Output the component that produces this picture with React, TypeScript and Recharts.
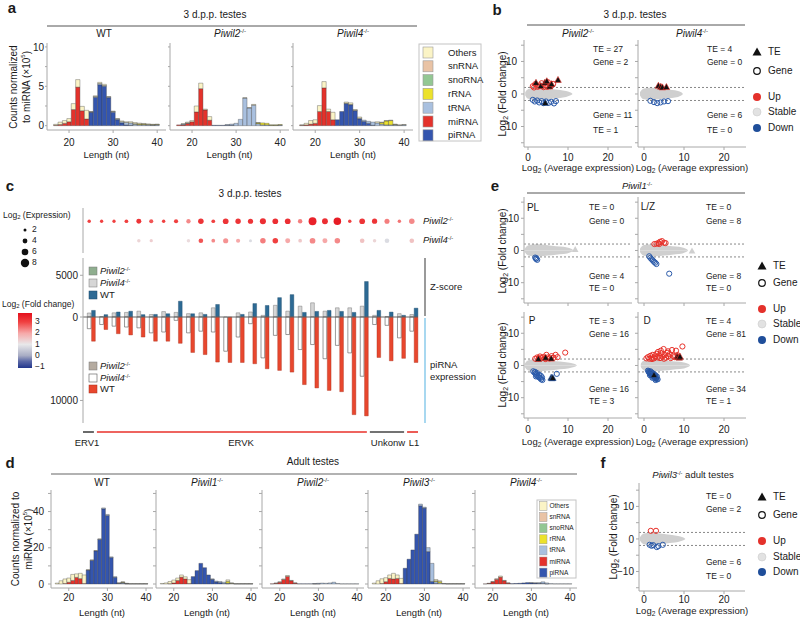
import React from 'react';
import { BarChart, Bar, XAxis, YAxis, ComposedChart, Area, Scatter, ReferenceLine } from 'recharts';

const FONT = '"Liberation Sans", Arial, Helvetica, sans-serif';
const BORDER = '#a8a8a8';
const TXT = '#1a1a1a';

// ---------------- histogram data (panels a, d) ----------------
const LEN = [17, 18, 19, 20, 21, 22, 23, 24, 25, 26, 27, 28, 29, 30, 31, 32, 33, 34, 35, 36, 37, 38, 39, 40];
const RNA_TYPES = ['Others', 'snRNA', 'snoRNA', 'rRNA', 'tRNA', 'miRNA', 'piRNA'];
const RNA_COLORS = ['#FBF4C6', '#E9C3A5', '#93C793', '#ECE22C', '#A9C0DF', '#E4322B', '#3455AE'];
const STACK_KEYS = ['pi', 'mi', 't', 'r', 'o'];
const STACK_COLORS = ['#3455AE', '#E4322B', '#A9C0DF', '#ECE22C', '#FBF4C6'];

const A_WT_PI = [0, 0, 0, 0, 0, 0, 0, 0, 1.7, 3.6, 5.2, 5.0, 3.55, 1.7, 0.75, 0.35, 0.1, 0.05, 0, 0, 0, 0, 0, 0];
const A_WT_MI = [0.05, 0.15, 0.3, 0.5, 2.05, 4.9, 1.9, 0.85, 0, 0, 0, 0, 0, 0, 0, 0, 0, 0, 0, 0, 0, 0, 0, 0];
const A_WT_T = [0, 0, 0, 0, 0, 0, 0, 0, 0.05, 0.1, 0.15, 0.1, 0.1, 0.1, 0.1, 0.15, 0.3, 0.3, 0.2, 0.12, 0.12, 0.1, 0.08, 0.1];
const A_WT_R = [0, 0, 0, 0, 0, 0, 0, 0, 0, 0, 0, 0, 0, 0, 0, 0, 0, 0, 0.05, 0.1, 0.08, 0.05, 0.05, 0.05];
const A_WT_O = [0.12, 0.3, 0.35, 0.4, 0.75, 0.95, 0.55, 1.1, 0.05, 0.1, 0.15, 0.15, 0.05, 0.05, 0.05, 0.1, 0.1, 0.15, 0.15, 0.1, 0.08, 0.08, 0.05, 0.05];

const A_P2_PI = [0, 0, 0, 0, 0, 0, 0, 0, 0.05, 0.05, 0.05, 0.05, 0.05, 0, 0, 0, 0, 0, 0, 0, 0, 0, 0, 0];
const A_P2_MI = [0.1, 0.1, 0.3, 0.5, 1.75, 4.7, 2.0, 0.7, 0, 0, 0, 0, 0, 0, 0, 0, 0, 0, 0, 0, 0, 0, 0, 0];
const A_P2_T = [0, 0.1, 0.05, 0, 0, 0, 0, 0, 0, 0, 0, 0.1, 0.15, 0.3, 0.8, 3.5, 2.25, 2.6, 0.25, 0.1, 0.1, 0.05, 0.05, 0.08];
const A_P2_R = [0, 0, 0, 0, 0, 0, 0, 0, 0, 0, 0, 0, 0, 0, 0, 0, 0, 0, 0.1, 0.25, 0.2, 0.05, 0.05, 0.05];
const A_P2_O = [0, 0.05, 0.1, 0.15, 0.75, 0.7, 0.1, 0.45, 0, 0, 0, 0, 0, 0, 0, 0.05, 0.05, 0.1, 0.05, 0, 0, 0, 0, 0];

const A_P4_PI = [0, 0, 0, 0, 0, 0, 0, 0, 0.75, 1.8, 2.8, 2.65, 1.9, 0.85, 0.55, 0.3, 0.05, 0, 0, 0, 0, 0, 0, 0];
const A_P4_MI = [0.05, 0.1, 0.2, 0.3, 1.8, 4.8, 1.8, 0.75, 0, 0, 0, 0, 0, 0, 0, 0, 0, 0, 0, 0, 0, 0, 0, 0];
const A_P4_T = [0, 0, 0, 0, 0, 0, 0, 0, 0, 0, 0.05, 0.05, 0.05, 0.1, 0.15, 0.25, 0.4, 0.35, 0.2, 0.1, 0.1, 0.1, 0.05, 0.1];
const A_P4_R = [0, 0, 0, 0, 0, 0, 0, 0, 0, 0, 0, 0, 0, 0, 0, 0, 0, 0, 0.2, 0.5, 0.55, 0.05, 0, 0];
const A_P4_O = [0.05, 0.2, 0.45, 0.45, 0.75, 0.8, 0.3, 0.95, 0, 0, 0.15, 0.2, 0.1, 0.15, 0, 0, 0, 0.15, 0.05, 0.05, 0.05, 0.05, 0.05, 0.05];

const D_WT_PI = [0, 0, 0, 0, 0, 0, 0, 0, 7.7, 13.1, 18.3, 24.7, 41.5, 37.8, 14.6, 3.7, 0.3, 0.3, 0.1, 0, 0, 0, 0, 0];
const D_WT_MI = [0, 0, 0.3, 1.0, 2.0, 3.7, 3.0, 0.3, 0, 0, 0, 0, 0, 0, 0, 0, 0, 0, 0, 0, 0, 0, 0, 0];
const D_WT_T = [0, 0, 0, 0, 0, 0, 0, 0, 0, 0, 0, 0, 0.5, 0.6, 0.4, 0.3, 0.2, 0.5, 0.2, 0.1, 0.1, 0.1, 0.1, 0.1];
const D_WT_R = [0, 0, 0, 0, 0, 0, 0, 0, 0, 0, 0, 0, 0, 0, 0, 0, 0, 0.2, 0, 0, 0, 0, 0, 0];
const D_WT_O = [0.5, 1.8, 2.5, 2.3, 3.3, 1.9, 2.9, 4.7, 0.2, 0.2, 0.2, 0.2, 0, 0, 0, 0, 0.1, 0.2, 0.1, 0.1, 0.1, 0.1, 0.1, 0.1];

const D_P1_PI = [0, 0, 0, 0, 0, 0, 0, 0, 4.1, 7.4, 11.4, 9.0, 5.0, 2.6, 1.2, 0.8, 0.3, 0.2, 0, 0, 0, 0, 0, 0];
const D_P1_MI = [0, 0, 0.2, 0.6, 2.0, 3.8, 2.8, 0.3, 0, 0, 0, 0, 0, 0, 0, 0, 0, 0, 0, 0, 0, 0, 0, 0];
const D_P1_T = [0, 0, 0, 0, 0, 0, 0, 0, 0, 0, 0, 0, 0, 0.2, 0.4, 0.6, 0.7, 0.3, 0.3, 0.1, 0.1, 0.1, 0.1, 0.1];
const D_P1_R = [0, 0, 0, 0, 0, 0, 0, 0, 0, 0, 0, 0, 0, 0, 0, 0, 0, 1.0, 0.1, 0, 0, 0, 0, 0];
const D_P1_O = [0.3, 0.6, 1.2, 1.6, 1.3, 1.2, 1.2, 2.1, 0, 0, 0, 0, 0, 0, 0, 0, 0, 0.8, 0.2, 0.1, 0.1, 0.1, 0.1, 0.1];

const D_P2_PI = [0, 0, 0, 0, 0, 0, 0, 0, 0.1, 0.1, 0.1, 0.1, 0.1, 0.1, 0, 0, 0, 0, 0, 0, 0, 0, 0, 0];
const D_P2_MI = [0, 0.1, 0.4, 1.0, 2.5, 4.2, 1.8, 0.5, 0, 0, 0, 0, 0, 0, 0, 0, 0, 0, 0, 0, 0, 0, 0, 0];
const D_P2_T = [0, 0, 0, 0, 0, 0, 0, 0, 0, 0, 0, 0, 0.1, 0.3, 0.5, 0.4, 0.6, 1.0, 0.3, 0.1, 0.1, 0.1, 0.1, 0.1];
const D_P2_R = [0, 0, 0, 0, 0, 0, 0, 0, 0, 0, 0, 0, 0, 0, 0, 0, 0, 0, 0, 0, 0, 0, 0, 0];
const D_P2_O = [0, 0, 0.1, 0.2, 0.3, 0.5, 0.2, 0.1, 0, 0, 0, 0, 0, 0, 0, 0, 0, 0, 0, 0, 0, 0, 0, 0];

const D_P3_PI = [0, 0, 0, 0, 0, 0, 0, 0, 8.7, 13.7, 18.8, 27.5, 43.2, 41.9, 17.9, 1.4, 0.3, 0, 0, 0, 0, 0, 0, 0];
const D_P3_MI = [0, 0, 0.3, 1.3, 3.1, 2.8, 3.1, 0.3, 0, 0, 0, 0, 0, 0, 0, 0, 0, 0, 0, 0, 0, 0, 0, 0];
const D_P3_T = [0, 0, 0, 0, 0, 0, 0, 0, 0, 0, 0, 0, 0.9, 0.5, 2.2, 10.0, 1.0, 0.5, 0.2, 0.1, 0.1, 0.1, 0.1, 0.1];
const D_P3_R = [0, 0, 0, 0, 0, 0, 0, 0, 0, 0, 0, 0, 0, 0, 0, 0, 0.5, 0.8, 0, 0, 0, 0, 0, 0];
const D_P3_O = [0.5, 1.8, 2.6, 2.2, 1.9, 3.1, 1.9, 2.8, 0, 0, 0, 0, 0, 0, 0, 0, 0.7, 0.5, 0.1, 0.1, 0.1, 0.1, 0.1, 0.1];

const D_P4_PI = [0, 0, 0, 0, 0, 0, 0, 0, 0.2, 0.3, 0.4, 0.6, 0.8, 0.6, 0.5, 0.4, 0.3, 0.1, 0, 0, 0, 0, 0, 0];
const D_P4_MI = [0, 0.05, 0.3, 1.2, 2.6, 3.8, 1.8, 0.5, 0, 0, 0, 0, 0, 0, 0, 0, 0, 0, 0, 0, 0, 0, 0, 0];
const D_P4_T = [0, 0, 0, 0, 0, 0, 0, 0, 0, 0, 0, 0, 0, 0.1, 0.1, 0.3, 0.9, 0.5, 0.2, 0.1, 0.1, 0.1, 0.1, 0.1];
const D_P4_R = [0, 0, 0, 0, 0, 0, 0, 0, 0, 0, 0, 0, 0, 0, 0, 0, 0, 0, 0, 0, 0, 0, 0, 0];
const D_P4_O = [0, 0, 0.1, 0.2, 0.3, 0.6, 0.2, 0.1, 0, 0, 0, 0, 0, 0, 0, 0, 0, 0, 0, 0, 0, 0, 0, 0];

// ---------------- panel c data ----------------
const C_FAMILY_NAMES = ['ERV1', 'ERVK', 'Unkonw', 'L1'];
const C_FAMILY_SIZES = [1, 22, 3, 1];
const C_FAMILY_COLORS = ['#444444', '#E8312A', '#444444', '#E8312A'];
const C_P2_Z = [0, 0, 0, 0, 0, 0, 0, 0, 0, 0, 0, 0, 0, 0, 0, 0, 0, 0, 0, 0, 0, 0, 0, 0, 0, 0, 0];
const C_P2_EXPR = [0, 0, 0, 0, 0, 0, 0, 0, 0, 0, 0, 0, 0, 0, 0, 0, 0, 0, 0, 0, 0, 0, 0, 0, 0, 0, 0];
const C_P4_Z = [480, 50, 500, 550, 700, 300, 650, 550, 400, 500, 1100, 0, 500, 600, 200, 1400, 700, 1300, 1700, 700, 1100, 1100, 1300, 200, 50, 400, 300];
const C_P4_EXPR = [1400, 900, 1100, 1200, 1300, 1900, 1800, 400, 1900, 1700, 1800, 4100, 2400, 800, 4900, 2200, 2100, 3900, 3300, 5000, 3400, 4300, 7100, 900, 1000, 2500, 1700];
const C_WT_Z = [790, 280, 600, 690, 280, 310, 390, 1890, 390, 310, 1500, 0, 310, 1610, 1380, 2320, 2680, 550, 670, 790, 670, 550, 4250, 790, 590, 200, 1060];
const C_WT_EXPR = [2900, 1500, 2000, 2150, 2400, 2900, 2900, 3150, 4250, 4500, 5400, 5450, 5450, 5600, 6200, 6400, 6600, 8100, 8500, 8800, 8950, 11700, 11850, 4850, 5250, 4950, 5450];
// dot rows: log2 expression & log2 fold change
const DOT_P2_LOG2EXPR = [2.5, 2.3, 2.3, 2.8, 4.2, 3.2, 2.5, 3.3, 3.5, 4.8, 2.8, 5.0, 4.7, 4.4, 5.4, 5.0, 5.0, 3.6, 7.4, 5.2, 7.0, 2.5, 5.0, 4.5, 4.3, 2.5, 4.8];
const DOT_P2_LOG2FC = [3.0, 3.0, 3.0, 3.0, 3.2, 2.8, 3.0, 3.0, 2.3, 3.2, 3.0, 3.2, 3.2, 3.2, 3.3, 3.3, 3.3, 2.4, 3.5, 3.3, 3.6, 3.0, 3.2, 3.2, 2.4, 2.5, 2.3];
const DOT_P4_LOG2EXPR = [null, null, null, null, 2.5, 2.3, null, null, 2.5, 3.8, 2.8, 4.4, 3.3, 2.0, 4.8, 4.8, 4.2, 2.8, 5.0, 4.2, 4.8, null, 3.8, 2.5, 3.8, null, 3.8];
const DOT_P4_LOG2FC = [null, null, null, null, 1.3, 1.4, null, null, 1.2, 2.8, 2.3, 2.2, 2.0, 0.8, 2.4, 3.0, 2.0, 1.5, 2.3, 2.0, 2.3, null, 1.6, 1.3, 0.8, null, 1.6];
const SIZE_LEGEND = [2, 4, 6, 8];
const FC_LEGEND = [3, 2, 1, 0, -1];

// ---------------- MA plot data (panels b, e, f) ----------------
const CLOUD_LO = [-0.5, -1.2, -1.6, -1.8, -1.7, -1.5, -1.2, -0.9, -0.5, -0.1];
const CLOUD_HI = [0.5, 1.2, 1.7, 1.9, 1.8, 1.5, 1.2, 0.9, 0.5, 0.1];
const B_P2_CLOUD_X = [-0.7, -0.3, 0.5, 2, 4, 6, 8, 9.5, 10.5, 11.1];
const B_P4_CLOUD_X = [-1.0, -0.6, 0, 1.5, 3, 5, 7, 8.5, 9.3, 9.7];
const E_PL_CLOUD_X = [-0.8, -0.4, 0.3, 2, 4, 6, 8, 9.8, 10.8, 11.3];
const E_LZ_CLOUD_X = [-1.0, -0.6, 0, 2, 4, 6, 8, 9.6, 10.5, 11.0];
const E_P_CLOUD_X = [-0.8, -0.4, 0.3, 2, 4, 6, 8, 10, 11.5, 12.2];
const E_D_CLOUD_X = [-0.8, -0.4, 0.3, 2, 4, 6, 8, 10, 11, 11.5];
const F_CLOUD_X = [-1.0, -0.6, 0, 1.5, 3, 5, 7, 8.5, 9.7, 10.3];

const B_P2_UP = [[1.2, 2.4], [1.8, 3.0], [2.4, 2.2], [2.9, 2.6], [3.4, 3.3], [3.9, 2.1], [4.4, 2.7], [5.0, 3.6], [5.6, 2.4], [6.3, 3.1], [1.5, 2.0], [4.8, 2.2]];
const B_P2_TE_UP = [[2.0, 3.4], [3.2, 2.4], [4.2, 3.4], [4.7, 3.9], [5.4, 2.3], [5.9, 3.0], [7.5, 4.3]];
const B_P2_DOWN = [[1.2, -1.8], [1.7, -2.3], [2.3, -2.0], [2.8, -2.6], [3.4, -2.2], [3.9, -2.8], [4.5, -2.3], [5.2, -2.7], [5.8, -2.4], [6.5, -2.9], [7.0, -2.2]];
const B_P2_TE_DOWN = [[4.3, -2.8]];
const B_P4_TE_UP = [[3.6, 2.5], [4.2, 2.2], [4.6, 2.0], [5.6, 2.1]];
const B_P4_DOWN = [[1.6, -2.1], [2.5, -2.5], [3.3, -2.8], [4.1, -2.6], [5.0, -2.3], [6.0, -2.2]];

const E_PL_DOWN = [[1.8, -2.2], [2.0, -2.6], [2.3, -2.9], [2.1, -2.4]];
const E_PL_TE_STABLE = [[11.8, 0.3]];
const E_LZ_UP = [[2.6, 2.0], [3.1, 2.1], [3.6, 2.3], [4.0, 2.7], [4.5, 2.9], [5.0, 2.4], [5.4, 2.3], [3.8, 2.0]];
const E_LZ_DOWN = [[1.3, -1.8], [1.6, -2.3], [1.9, -2.7], [2.2, -3.1], [2.5, -3.5], [2.8, -3.8], [3.1, -4.2], [6.3, -7.2]];
const E_LZ_TE_STABLE = [[12.0, -0.2]];
const E_P_UP = [[1.8, 2.1], [2.3, 2.5], [2.7, 2.2], [3.0, 2.8], [3.4, 2.3], [3.8, 2.6], [4.2, 2.2], [4.6, 3.3], [5.0, 2.5], [5.4, 2.2], [5.9, 2.9], [6.4, 2.4], [6.9, 3.3], [7.4, 2.6], [9.3, 4.0], [4.4, 2.0]];
const E_P_TE_UP = [[2.6, 2.0], [4.4, 2.4], [5.8, 2.1]];
const E_P_DOWN = [[1.3, -1.8], [1.6, -2.2], [1.9, -2.6], [2.1, -3.0], [2.4, -3.3], [2.7, -3.6], [3.0, -3.9], [3.3, -4.3], [3.6, -4.5], [1.8, -2.0], [2.3, -2.4], [2.8, -2.9], [3.2, -3.2], [3.5, -3.7], [2.0, -3.4], [7.2, -2.6]];
const E_P_TE_DOWN = [[5.8, -3.8], [6.0, -4.0], [6.2, -3.9]];
const E_D_UP = [[0.6, 2.2], [1.0, 2.6], [1.3, 2.1], [1.6, 3.0], [1.9, 2.4], [2.2, 3.3], [2.5, 2.2], [2.8, 2.8], [3.1, 3.6], [3.4, 2.5], [3.7, 3.1], [4.0, 2.3], [4.3, 3.8], [4.6, 2.7], [4.9, 5.1], [5.2, 3.2], [5.5, 2.4], [5.8, 3.9], [6.1, 2.9], [6.4, 3.5], [6.7, 2.3], [7.0, 4.8], [7.3, 3.0], [7.6, 2.6], [8.0, 4.6], [8.4, 3.2], [9.6, 5.9], [2.0, 2.0], [3.5, 4.2], [5.0, 2.1], [6.0, 4.4], [4.2, 4.6]];
const E_D_TE_UP = [[8.3, 2.8], [8.5, 2.6], [8.8, 2.4], [9.0, 2.7]];
const E_D_DOWN = [[1.0, -1.6], [1.2, -2.0], [1.4, -2.4], [1.6, -1.8], [1.8, -2.8], [2.0, -2.2], [2.2, -3.2], [2.4, -2.6], [2.6, -3.6], [2.8, -3.0], [3.0, -4.0], [3.2, -3.4], [3.4, -4.3], [1.5, -3.0], [2.1, -3.8], [2.9, -4.5]];
const E_D_TE_DOWN = [[2.5, -3.0]];
const F_UP = [[1.7, 2.5], [3.0, 2.5]];
const F_DOWN = [[1.4, -1.8], [1.9, -2.1], [2.3, -1.9], [3.2, -2.5], [3.6, -2.2], [4.7, -1.8]];

// ---------------- helpers ----------------
const toPts = (a: number[][]) => a.map(([x, y]) => ({ x, y }));
const fmtNeg = (v: number) => (v < 0 ? '\u2212' + Math.abs(v) : String(v));

const FC_STOPS: [number, number[]][] = [
  [-1.1, [34, 54, 140]], [-0.4, [100, 112, 170]], [0, [168, 172, 196]], [1, [232, 232, 234]],
  [2, [246, 168, 168]], [3, [240, 64, 64]], [3.8, [228, 16, 28]],
];
function fcColor(v: number) {
  const s = FC_STOPS;
  const c = (a: number[]) => `rgb(${a.map((q) => Math.round(q)).join(',')})`;
  if (v <= s[0][0]) return c(s[0][1]);
  for (let i = 1; i < s.length; i++) {
    if (v <= s[i][0]) {
      const t = (v - s[i - 1][0]) / (s[i][0] - s[i - 1][0]);
      return c(s[i - 1][1].map((q, k) => q + (s[i][1][k] - q) * t));
    }
  }
  return c(s[s.length - 1][1]);
}
const dotR = (e: number) => 0.6 + 0.45 * e;

function Txt({ x, y, size = 9.5, anchor = 'middle', bold = false, italic = false, rotate = false, color = TXT, children }: any) {
  const tx = anchor === 'middle' ? '-50%' : anchor === 'end' ? '-100%' : '0%';
  return (
    <div
      style={{
        position: 'absolute', left: x, top: y,
        transform: `translate(${tx}, -50%)${rotate ? ' rotate(-90deg)' : ''}`,
        fontSize: size, fontWeight: bold ? 700 : 400, fontStyle: italic ? 'italic' : 'normal',
        color, whiteSpace: 'nowrap', lineHeight: 1.15, fontFamily: FONT, textAlign: 'center',
      }}
    >
      {children}
    </div>
  );
}
const KO = ({ g }: { g: string }) => (
  <span>
    <i>{g}</i>
    <span style={{ fontSize: '0.6em', position: 'relative', top: '-0.6em' }}>-/-</span>
  </span>
);
const Log2 = () => (
  <span>
    Log<span style={{ fontSize: '0.7em', position: 'relative', top: '0.25em' }}>2</span>
  </span>
);

const tickStyle = { fill: '#222', fontSize: 10, fontFamily: FONT };

// ---------------- histogram ----------------
function Hist({ box, pi, mi, t, r, o, xDomain, yDomain, yTicks, yShow, barSize, xm, ym, ys = 3 }: any) {
  const [bx, by, bw, bh] = box;
  const yw = 26, xh = 24;
  const rows = LEN.map((len, i) => ({ len, pi: pi[i], mi: mi[i], t: t[i], r: r[i], o: o[i] }));
  return (
    <div style={{ position: 'absolute', left: bx - yw, top: by - 1 }}>
      <BarChart width={yw + bw + 1} height={1 + bh + xh} data={rows} margin={{ top: 1, right: 1, bottom: 0, left: 0 }} barSize={barSize}>
        <XAxis xAxisId="b" type="number" dataKey="len" domain={xDomain} allowDataOverflow ticks={[20, 30, 40]} interval={0}
          height={xh} tickSize={3} tickMargin={xm} stroke={BORDER} tick={tickStyle} />
        <XAxis xAxisId="t" orientation="top" type="number" dataKey="len" domain={xDomain} allowDataOverflow height={0}
          tick={false} tickLine={false} stroke={BORDER} />
        <YAxis yAxisId="l" type="number" domain={yDomain} allowDataOverflow ticks={yTicks} interval={0} width={yw}
          tickSize={ys} tickMargin={ym} stroke={BORDER} tick={tickStyle}
          tickFormatter={(v: number) => (yShow.includes(v) ? String(v) : '')} />
        <YAxis yAxisId="r" orientation="right" type="number" domain={yDomain} allowDataOverflow width={0}
          tick={false} tickLine={false} stroke={BORDER} />
        {STACK_KEYS.map((k, i) => (
          <Bar key={k} xAxisId="b" yAxisId="l" dataKey={k} stackId="s" fill={STACK_COLORS[i]}
            stroke="#3a3a3a" strokeWidth={0.35} isAnimationActive={false} />
        ))}
      </BarChart>
    </div>
  );
}

// ---------------- MA plot ----------------
const ring = (stroke: string, fill = 'none') => (p: any) =>
  p.cx == null || isNaN(p.cy) ? <g /> : <circle cx={p.cx} cy={p.cy} r={2.6} fill={fill} stroke={stroke} strokeWidth={1} />;
const tri = (fill: string, stroke = 'none') => (p: any) =>
  p.cx == null || isNaN(p.cy) ? <g /> : (
    <polygon points={`${p.cx},${p.cy - 3.6} ${p.cx - 3.3},${p.cy + 2.4} ${p.cx + 3.3},${p.cy + 2.4}`} fill={fill} stroke={stroke} strokeWidth={0.6} />
  );

function MA({ box, xDomain, yDomain, cloudX, up = [], down = [], teUp = [], teDown = [], teStable = [], yLab, xLab, xm = 4, ym = 3, downFill = 'none' }: any) {
  const [bx, by, bw, bh] = box;
  const yw = 28, xh = 22;
  const data = cloudX.map((x: number, i: number) => ({ x, lo: CLOUD_LO[i], hi: CLOUD_HI[i] }));
  const series = [
    { d: teStable, shape: tri('#cfcfcf') },
    { d: up, shape: ring('#E8312A') },
    { d: down, shape: ring('#2A5AAA', downFill) },
    { d: teUp, shape: tri('#111', '#E8312A') },
    { d: teDown, shape: tri('#111', '#2A5AAA') },
  ].filter((s) => s.d.length > 0);
  return (
    <div style={{ position: 'absolute', left: bx - yw, top: by - 1 }}>
      <ComposedChart width={yw + bw + 1} height={1 + bh + xh} data={data} margin={{ top: 1, right: 1, bottom: 0, left: 0 }}>
        <XAxis xAxisId="b" type="number" dataKey="x" domain={xDomain} allowDataOverflow ticks={[0, 10, 20]} interval={0}
          height={xh} tickSize={3} tickMargin={xm} stroke={BORDER} tick={tickStyle}
          tickFormatter={(v: number) => (xLab ? String(v) : '')} />
        <XAxis xAxisId="t" orientation="top" type="number" domain={xDomain} allowDataOverflow height={0}
          tick={false} tickLine={false} stroke={BORDER} />
        <YAxis yAxisId="l" type="number" domain={yDomain} allowDataOverflow ticks={[-15, -10, -5, 0, 5, 10, 15]} interval={0}
          width={yw} tickSize={3} tickMargin={ym} stroke={BORDER} tick={tickStyle}
          tickFormatter={(v: number) => (yLab && v % 10 === 0 ? fmtNeg(v) : '')} />
        <YAxis yAxisId="r" orientation="right" type="number" domain={yDomain} allowDataOverflow width={0}
          tick={false} tickLine={false} stroke={BORDER} />
        <Area xAxisId="b" yAxisId="l" type="monotone" dataKey="hi" baseValue={0} fill="#cfcfcf" fillOpacity={1} stroke="none"
          dot={false} activeDot={false} isAnimationActive={false} />
        <Area xAxisId="b" yAxisId="l" type="monotone" dataKey="lo" baseValue={0} fill="#cfcfcf" fillOpacity={1} stroke="none"
          dot={false} activeDot={false} isAnimationActive={false} />
        <ReferenceLine xAxisId="b" yAxisId="l" y={2} stroke="#555" strokeDasharray="2 2" strokeWidth={0.7} />
        <ReferenceLine xAxisId="b" yAxisId="l" y={-2} stroke="#555" strokeDasharray="2 2" strokeWidth={0.7} />
        {series.map((s, i) => (
          <Scatter key={i} xAxisId="b" yAxisId="l" data={toPts(s.d)} dataKey="y" shape={s.shape} isAnimationActive={false} />
        ))}
      </ComposedChart>
    </div>
  );
}

// ---------------- panel c charts ----------------
function DotRows() {
  const p2 = DOT_P2_LOG2EXPR.map((e, i) => ({ x: i + 1, y: 2, e, fc: DOT_P2_LOG2FC[i] }));
  const p4 = DOT_P4_LOG2EXPR.map((e, i) => ({ x: i + 1, y: 1, e, fc: DOT_P4_LOG2FC[i] })).filter((d) => d.e != null);
  const dot = (p: any) =>
    p.cx == null ? <g /> : <circle cx={p.cx} cy={p.cy} r={dotR(p.payload.e)} fill={fcColor(p.payload.fc)} />;
  return (
    <div style={{ position: 'absolute', left: 82, top: 207 }}>
      <ComposedChart width={337} height={46} margin={{ top: 1, right: 1, bottom: 0, left: 0 }}>
        <XAxis xAxisId="b" type="number" dataKey="x" domain={[0.5, 27.5]} allowDataOverflow height={0} tick={false} tickLine={false} stroke={BORDER} />
        <XAxis xAxisId="t" orientation="top" type="number" domain={[0.5, 27.5]} allowDataOverflow height={0} tick={false} tickLine={false} stroke={BORDER} />
        <YAxis yAxisId="l" type="number" domain={[0.37, 2.68]} allowDataOverflow width={1} tick={false} tickLine={false} stroke={BORDER} />
        <YAxis yAxisId="r" orientation="right" type="number" domain={[0.37, 2.68]} allowDataOverflow width={0} tick={false} tickLine={false} stroke={BORDER} />
        <Scatter xAxisId="b" yAxisId="l" data={p2} dataKey="y" shape={dot} isAnimationActive={false} />
        <Scatter xAxisId="b" yAxisId="l" data={p4} dataKey="y" shape={dot} isAnimationActive={false} />
      </ComposedChart>
    </div>
  );
}

function TEBars() {
  const rows = C_WT_Z.map((_, i) => ({
    id: i + 1,
    p2z: C_P2_Z[i], p2e: -C_P2_EXPR[i],
    p4z: C_P4_Z[i], p4e: -C_P4_EXPR[i],
    wtz: C_WT_Z[i], wte: -C_WT_EXPR[i],
  }));
  const yw = 45;
  const dom = [-12700, 7070];
  return (
    <div style={{ position: 'absolute', left: 83 - yw, top: 257 }}>
      <BarChart width={yw + 335 + 1} height={166} data={rows} margin={{ top: 1, right: 1, bottom: 0, left: 0 }}
        stackOffset="sign" barSize={3.7} barGap={0.6} barCategoryGap={0}>
        <XAxis xAxisId="b" dataKey="id" height={0} tick={false} tickLine={false} stroke={BORDER} />
        <XAxis xAxisId="t" orientation="top" dataKey="id" height={0} tick={false} tickLine={false} stroke={BORDER} />
        <YAxis yAxisId="l" type="number" domain={dom} allowDataOverflow ticks={[-10000, 0, 5000]} interval={0} width={yw}
          tickSize={3} tickMargin={2} stroke={BORDER} tick={tickStyle} tickFormatter={(v: number) => String(Math.abs(v))} />
        <YAxis yAxisId="r" orientation="right" type="number" domain={dom} allowDataOverflow width={0} tick={false} tickLine={false} stroke={BORDER} />
        <ReferenceLine xAxisId="b" yAxisId="l" y={0} stroke="#666" strokeWidth={1} />
        <Bar xAxisId="b" yAxisId="l" dataKey="p2z" stackId="p2" fill="#8FAE8F" isAnimationActive={false} />
        <Bar xAxisId="b" yAxisId="l" dataKey="p2e" stackId="p2" fill="#B5ABA0" isAnimationActive={false} />
        <Bar xAxisId="b" yAxisId="l" dataKey="p4z" stackId="p4" fill="#D6D6D6" stroke="#7a7a7a" strokeWidth={0.5} isAnimationActive={false} />
        <Bar xAxisId="b" yAxisId="l" dataKey="p4e" stackId="p4" fill="#FFFFFF" stroke="#555" strokeWidth={0.6} isAnimationActive={false} />
        <Bar xAxisId="b" yAxisId="l" dataKey="wtz" stackId="wt" fill="#2D6A94" stroke="#1d4a6a" strokeWidth={0.4} isAnimationActive={false} />
        <Bar xAxisId="b" yAxisId="l" dataKey="wte" stackId="wt" fill="#E8472E" stroke="#a8301c" strokeWidth={0.4} isAnimationActive={false} />
      </BarChart>
    </div>
  );
}

// ---------------- overlay graphics (legends, brackets) ----------------
function Overlay() {
  const band = 335 / 27;
  let acc = 0;
  const fam = C_FAMILY_NAMES.map((n, i) => {
    const s = acc;
    acc += C_FAMILY_SIZES[i];
    return { n, x1: 83 + s * band + (i > 0 ? 1.5 : 0), x2: 83 + acc * band - (i < C_FAMILY_NAMES.length - 1 ? 1.5 : 0), c: C_FAMILY_COLORS[i] };
  });
  const gradStops = [3.8, 3, 2, 1, 0, -0.5, -1.1];
  const maLegend = (cx: number, ys: number[]) => (
    <g>
      <polygon points={`${cx},${ys[0] - 4.5} ${cx - 4.5},${ys[0] + 3.5} ${cx + 4.5},${ys[0] + 3.5}`} fill="#111" />
      <circle cx={cx} cy={ys[1]} r={3.3} fill="none" stroke="#111" strokeWidth={1.2} />
      <circle cx={cx} cy={ys[2]} r={4} fill="#E4312B" />
      <circle cx={cx} cy={ys[3]} r={4} fill="#E2E2E2" stroke="#cccccc" strokeWidth={0.6} />
      <circle cx={cx} cy={ys[4]} r={4} fill="#1F4E9A" />
    </g>
  );
  return (
    <svg width={800} height={618} style={{ position: 'absolute', left: 0, top: 0, pointerEvents: 'none' }}>
      <defs>
        <linearGradient id="fcg" x1="0" y1="0" x2="0" y2="1">
          {gradStops.map((v) => (
            <stop key={v} offset={(3.8 - v) / 4.9} stopColor={fcColor(v)} />
          ))}
        </linearGradient>
      </defs>
      {/* header rules */}
      <line x1={47} y1={26} x2={417} y2={26} stroke="#555" strokeWidth={1} />
      <line x1={527} y1={25} x2={745} y2={25} stroke="#555" strokeWidth={1} />
      <line x1={527} y1={193} x2={745} y2={193} stroke="#555" strokeWidth={1} />
      <line x1={51} y1={474} x2={577} y2={474} stroke="#999" strokeWidth={1.6} />
      {/* panel a legend */}
      <rect x={419} y={44} width={62} height={97} fill="none" stroke="#c4c4c4" strokeWidth={1} />
      {RNA_TYPES.map((n, i) => (
        <rect key={n} x={423} y={47 + i * 13.8} width={10} height={11} fill={RNA_COLORS[i]} stroke="#9a9a9a" strokeWidth={0.6} />
      ))}
      {/* panel d legend */}
      <rect x={537} y={500} width={39} height={78} fill="#fff" stroke="#c4c4c4" strokeWidth={1} />
      {RNA_TYPES.map((n, i) => (
        <rect key={n} x={539.5} y={501.5 + i * 11.1} width={7.5} height={9} fill={RNA_COLORS[i]} stroke="#9a9a9a" strokeWidth={0.5} />
      ))}
      {/* MA legends */}
      {maLegend(757, [52, 71, 97, 112, 128])}
      {maLegend(762, [266, 283, 309, 324, 340])}
      {maLegend(762, [497, 515, 541, 557, 572])}
      {/* panel c size legend */}
      {SIZE_LEGEND.map((v, i) => (
        <circle key={v} cx={25} cy={230 + i * 11} r={dotR(v)} fill="#111" />
      ))}
      {/* colour bar */}
      <rect x={18} y={313} width={14} height={55} fill="url(#fcg)" />
      {/* bar legends */}
      <rect x={89} y={267} width={8} height={8} fill="#8FAE8F" stroke="#777" strokeWidth={0.5} />
      <rect x={89} y={279} width={8} height={8} fill="#D6D6D6" stroke="#777" strokeWidth={0.5} />
      <rect x={89} y={291} width={8} height={8} fill="#2D6A94" stroke="#1d4a6a" strokeWidth={0.5} />
      <rect x={89} y={362} width={8} height={8} fill="#B5ABA0" stroke="#777" strokeWidth={0.5} />
      <rect x={89} y={374} width={8} height={8} fill="#FFFFFF" stroke="#555" strokeWidth={0.6} />
      <rect x={89} y={385} width={8} height={8} fill="#E8472E" stroke="#a8301c" strokeWidth={0.5} />
      {/* right brackets of c */}
      <line x1={425} y1={258} x2={425} y2={316} stroke="#9a9a9a" strokeWidth={2} />
      <line x1={425} y1={318} x2={425} y2={423} stroke="#A8D8F0" strokeWidth={2} />
      {/* TE family brackets */}
      {fam.map((f) => (
        <line key={f.n} x1={f.x1} y1={432} x2={f.x2} y2={432} stroke={f.c} strokeWidth={1.6} />
      ))}
    </svg>
  );
}

// ---------------- page ----------------
const A_BOXES = [[47, 43, 119, 87], [170, 43, 119, 87], [293, 43, 120, 87]];
const D_BOXES = [[51, 490, 102, 98], [156, 490, 102, 98], [262, 490, 102, 98], [368, 490, 102, 98], [475, 490, 102, 98]];

export default function App() {
  const aRows = [
    { name: 'WT', pi: A_WT_PI, mi: A_WT_MI, t: A_WT_T, r: A_WT_R, o: A_WT_O },
    { name: 'Piwil2', pi: A_P2_PI, mi: A_P2_MI, t: A_P2_T, r: A_P2_R, o: A_P2_O },
    { name: 'Piwil4', pi: A_P4_PI, mi: A_P4_MI, t: A_P4_T, r: A_P4_R, o: A_P4_O },
  ];
  const dRows = [
    { name: 'WT', pi: D_WT_PI, mi: D_WT_MI, t: D_WT_T, r: D_WT_R, o: D_WT_O },
    { name: 'Piwil1', pi: D_P1_PI, mi: D_P1_MI, t: D_P1_T, r: D_P1_R, o: D_P1_O },
    { name: 'Piwil2', pi: D_P2_PI, mi: D_P2_MI, t: D_P2_T, r: D_P2_R, o: D_P2_O },
    { name: 'Piwil3', pi: D_P3_PI, mi: D_P3_MI, t: D_P3_T, r: D_P3_R, o: D_P3_O },
    { name: 'Piwil4', pi: D_P4_PI, mi: D_P4_MI, t: D_P4_T, r: D_P4_R, o: D_P4_O },
  ];
  const maTexts = (x: number, ys: number[], vals: string[]) =>
    vals.map((v, i) => (
      <Txt key={i} x={x} y={ys[i]} size={8.5} anchor="start">{v}</Txt>
    ));
  const legendLabels = (x: number, ys: number[]) =>
    ['TE', 'Gene', 'Up', 'Stable', 'Down'].map((n, i) => (
      <Txt key={n} x={x} y={ys[i]} size={10} anchor="start">{n}</Txt>
    ));

  return (
    <div style={{ position: 'fixed', left: 0, top: 0, width: 800, height: 618, background: '#fff', overflow: 'hidden', fontFamily: FONT, color: TXT }}>
      {/* ---------- panel a ---------- */}
      {aRows.map((p, i) => (
        <Hist key={p.name} box={A_BOXES[i]} {...p} xDomain={[15, 42]} yDomain={[-0.55, 10.5]} yTicks={[0, 2.5, 5, 7.5, 10]}
          yShow={i === 0 ? [0, 5, 10] : []} barSize={4.3} xm={5.5} ym={1} ys={2} />
      ))}
      {/* ---------- panel d ---------- */}
      {dRows.map((p, i) => (
        <Hist key={p.name} box={D_BOXES[i]} {...p} xDomain={[15.4, 41.8]} yDomain={[-2.2, 51.9]} yTicks={[0, 10, 20, 30, 40, 50]}
          yShow={i === 0 ? [0, 20, 40] : []} barSize={3.8} xm={2.5} ym={4} />
      ))}
      {/* ---------- panel b ---------- */}
      <MA box={[524, 40, 108, 107]} xDomain={[-1, 26]} yDomain={[-16.3, 16.6]} cloudX={B_P2_CLOUD_X} up={B_P2_UP}
        teUp={B_P2_TE_UP} down={B_P2_DOWN} teDown={B_P2_TE_DOWN} yLab xLab xm={3.5} ym={4} />
      <MA box={[638, 40, 108, 107]} xDomain={[-1.5, 25.5]} yDomain={[-16.3, 16.6]} cloudX={B_P4_CLOUD_X}
        teUp={B_P4_TE_UP} down={B_P4_DOWN} yLab={false} xLab xm={3.5} />
      {/* ---------- panel e ---------- */}
      <MA box={[524, 197, 108, 106]} xDomain={[-1, 26]} yDomain={[-16.3, 16.6]} cloudX={E_PL_CLOUD_X}
        down={E_PL_DOWN} teStable={E_PL_TE_STABLE} yLab xLab={false} ym={2} />
      <MA box={[638, 197, 108, 106]} xDomain={[-1.5, 25.5]} yDomain={[-16.3, 16.6]} cloudX={E_LZ_CLOUD_X}
        up={E_LZ_UP} down={E_LZ_DOWN} teStable={E_LZ_TE_STABLE} yLab={false} xLab={false} />
      <MA box={[524, 312, 108, 106]} xDomain={[-1, 26]} yDomain={[-16.3, 16.6]} cloudX={E_P_CLOUD_X}
        up={E_P_UP} teUp={E_P_TE_UP} down={E_P_DOWN} teDown={E_P_TE_DOWN} yLab xLab xm={4.5} ym={2} />
      <MA box={[638, 312, 108, 106]} xDomain={[-1.5, 25.5]} yDomain={[-16.3, 16.6]} cloudX={E_D_CLOUD_X}
        up={E_D_UP} teUp={E_D_TE_UP} down={E_D_DOWN} teDown={E_D_TE_DOWN} yLab={false} xLab xm={4.5}
        downFill="rgba(31,78,154,0.55)" />
      {/* ---------- panel f ---------- */}
      <MA box={[639, 483, 106, 108]} xDomain={[-1.25, 25.25]} yDomain={[-16, 17.2]} cloudX={F_CLOUD_X}
        up={F_UP} down={F_DOWN} yLab xLab xm={1.5} ym={2} />
      {/* ---------- panel c ---------- */}
      <DotRows />
      <TEBars />

      <Overlay />

      {/* ---------- texts ---------- */}
      <Txt x={12} y={8} size={15} bold>a</Txt>
      <Txt x={497} y={10} size={15} bold>b</Txt>
      <Txt x={10} y={186} size={15} bold>c</Txt>
      <Txt x={495} y={186} size={15} bold>e</Txt>
      <Txt x={10} y={463} size={15} bold>d</Txt>
      <Txt x={603} y={463} size={15} bold>f</Txt>

      {/* a */}
      <Txt x={215} y={15} size={10}>3 d.p.p. testes</Txt>
      <Txt x={104} y={34} size={10}>WT</Txt>
      <Txt x={230} y={34} size={10}><KO g="Piwil2" /></Txt>
      <Txt x={353} y={34} size={10}><KO g="Piwil4" /></Txt>
      {A_BOXES.map((b, i) => (
        <Txt key={i} x={b[0] + b[2] / 2} y={155} size={9.5}>Length (nt)</Txt>
      ))}
      <Txt x={20} y={87} size={10} rotate>Counts normalized<br />to miRNA (×10<sup style={{ fontSize: '0.6em' }}>5</sup>)</Txt>
      {RNA_TYPES.map((n, i) => (
        <Txt key={n} x={448} y={52.5 + i * 13.8} size={9.5} anchor="start">{n}</Txt>
      ))}

      {/* b */}
      <Txt x={635} y={15} size={10}>3 d.p.p. testes</Txt>
      <Txt x={578} y={34} size={10}><KO g="Piwil2" /></Txt>
      <Txt x={692} y={34} size={10}><KO g="Piwil4" /></Txt>
      <Txt x={503} y={94} size={10} rotate><Log2 /> (Fold change)</Txt>
      <Txt x={578} y={168} size={9.5}><Log2 /> (Average expression)</Txt>
      <Txt x={692} y={168} size={9.5}><Log2 /> (Average expression)</Txt>
      {maTexts(593, [50, 63, 116, 131], ['TE = 27', 'Gene = 2', 'Gene = 11', 'TE = 1'])}
      {maTexts(707, [50, 63, 116, 131], ['TE = 4', 'Gene = 0', 'Gene = 6', 'TE = 0'])}
      {legendLabels(768, [52, 71, 97, 112, 128])}

      {/* e */}
      <Txt x={637} y={186} size={9.5}><KO g="Piwil1" /></Txt>
      <Txt x={503} y={251} size={10} rotate><Log2 /> (Fold change)</Txt>
      <Txt x={503} y={365} size={10} rotate><Log2 /> (Fold change)</Txt>
      <Txt x={578} y={442} size={9.5}><Log2 /> (Average expression)</Txt>
      <Txt x={692} y={442} size={9.5}><Log2 /> (Average expression)</Txt>
      <Txt x={533} y={208} size={10}>PL</Txt>
      <Txt x={648} y={207} size={10}>L/Z</Txt>
      <Txt x={532} y={321} size={10}>P</Txt>
      <Txt x={647} y={321} size={10}>D</Txt>
      {maTexts(589, [208, 222, 277, 289], ['TE = 0', 'Gene = 0', 'Gene = 4', 'TE = 0'])}
      {maTexts(706, [208, 222, 277, 289], ['TE = 0', 'Gene = 8', 'Gene = 8', 'TE = 0'])}
      {maTexts(589, [322, 335, 390, 402], ['TE = 3', 'Gene = 16', 'Gene = 16', 'TE = 3'])}
      {maTexts(706, [322, 335, 390, 402], ['TE = 4', 'Gene = 81', 'Gene = 34', 'TE = 1'])}
      {legendLabels(773, [266, 283, 309, 324, 340])}

      {/* f */}
      <Txt x={693} y={475} size={9.5}><KO g="Piwil3" /> adult testes</Txt>
      <Txt x={614} y={537} size={10} rotate><Log2 /> (Fold change)</Txt>
      <Txt x={692} y={611} size={9.5}><Log2 /> (Average expression)</Txt>
      {maTexts(706, [497, 510, 563, 577], ['TE = 0', 'Gene = 2', 'Gene = 6', 'TE = 0'])}
      {legendLabels(773, [497, 515, 541, 557, 572])}

      {/* c */}
      <Txt x={250} y={194} size={10}>3 d.p.p. testes</Txt>
      <Txt x={423} y={221} size={9.5} anchor="start"><KO g="Piwil2" /></Txt>
      <Txt x={423} y={240} size={9.5} anchor="start"><KO g="Piwil4" /></Txt>
      <Txt x={3} y={216} size={8.5} anchor="start"><Log2 /> (Expression)</Txt>
      {SIZE_LEGEND.map((v, i) => (
        <Txt key={v} x={32} y={230 + i * 11} size={8.5} anchor="start">{v}</Txt>
      ))}
      <Txt x={2} y={305} size={8.5} anchor="start"><Log2 /> (Fold change)</Txt>
      {FC_LEGEND.map((v) => (
        <Txt key={v} x={35} y={322 + (3 - v) * 11.25} size={8.5} anchor="start">{fmtNeg(v)}</Txt>
      ))}
      <Txt x={100} y={271} size={9.5} anchor="start"><KO g="Piwil2" /></Txt>
      <Txt x={100} y={283} size={9.5} anchor="start"><KO g="Piwil4" /></Txt>
      <Txt x={100} y={295} size={9.5} anchor="start">WT</Txt>
      <Txt x={100} y={366} size={9.5} anchor="start"><KO g="Piwil2" /></Txt>
      <Txt x={100} y={378} size={9.5} anchor="start"><KO g="Piwil4" /></Txt>
      <Txt x={100} y={389} size={9.5} anchor="start">WT</Txt>
      <Txt x={430} y={287} size={9.5} anchor="start">Z-score</Txt>
      <Txt x={430} y={365} size={9.5} anchor="start">piRNA</Txt>
      <Txt x={430} y={377} size={9.5} anchor="start">expression</Txt>
      {C_FAMILY_NAMES.map((n, i) => (
        <Txt key={n} x={[87, 241, 388, 414][i]} y={443} size={9.5}>{n}</Txt>
      ))}

      {/* d */}
      <Txt x={313} y={462} size={10}>Adult testes</Txt>
      {dRows.map((p, i) => (
        <Txt key={p.name} x={D_BOXES[i][0] + D_BOXES[i][2] / 2} y={482.5} size={10}>
          {p.name === 'WT' ? 'WT' : <KO g={p.name} />}
        </Txt>
      ))}
      {D_BOXES.map((b, i) => (
        <Txt key={i} x={b[0] + b[2] / 2} y={613} size={9.5}>Length (nt)</Txt>
      ))}
      <Txt x={22} y={539} size={10} rotate>Counts normalized to<br />miRNA (×10<sup style={{ fontSize: '0.6em' }}>5</sup>)</Txt>
      {RNA_TYPES.map((n, i) => (
        <Txt key={n} x={549.5} y={506 + i * 11.1} size={6.5} anchor="start">{n}</Txt>
      ))}
    </div>
  );
}
